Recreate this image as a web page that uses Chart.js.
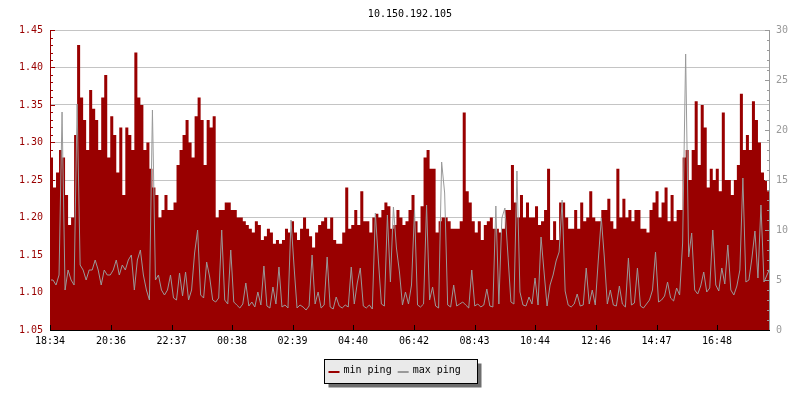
<!DOCTYPE html>
<html>
<head>
<meta charset="utf-8">
<script src="https://cdn.jsdelivr.net/npm/chart.js@4.4.0/dist/chart.umd.min.js"></script>
<style>
  body { margin: 0; background: #fff; }
  #wrap { width: 800px; height: 400px; }
</style>
</head>
<body>
<div id="wrap"><canvas id="chart1" width="800" height="400"></canvas></div>
<script>
// data, one sample every ~6 minutes from 18:34
var title = '10.150.192.105';
var startTime = '18:34';
var tickLabels = ['18:34', '20:36', '22:37', '00:38', '02:39', '04:40', '06:42', '08:43', '10:44', '12:46', '14:47', '16:48'];

var minPing = [
  1.28, 1.24, 1.26, 1.29, 1.28, 1.23, 1.19, 1.20, 1.31, 1.43,
  1.36, 1.33, 1.29, 1.37, 1.345, 1.33, 1.29, 1.36, 1.39, 1.28,
  1.335, 1.31, 1.26, 1.32, 1.23, 1.32, 1.31, 1.29, 1.42, 1.36,
  1.35, 1.29, 1.30, 1.265, 1.24, 1.23, 1.20, 1.21, 1.23, 1.21,
  1.21, 1.22, 1.27, 1.29, 1.31, 1.33, 1.30, 1.28, 1.335, 1.36,
  1.33, 1.27, 1.33, 1.32, 1.335, 1.20, 1.21, 1.21, 1.22, 1.22,
  1.21, 1.21, 1.20, 1.20, 1.195, 1.19, 1.185, 1.18, 1.195, 1.19,
  1.17, 1.175, 1.185, 1.18, 1.165, 1.17, 1.165, 1.17, 1.185, 1.18,
  1.195, 1.18, 1.17, 1.185, 1.20, 1.185, 1.175, 1.16, 1.18, 1.19,
  1.195, 1.20, 1.185, 1.20, 1.17, 1.165, 1.165, 1.18, 1.24, 1.185,
  1.19, 1.21, 1.19, 1.235, 1.195, 1.195, 1.18, 1.20, 1.205, 1.20,
  1.21, 1.22, 1.215, 1.185, 1.19, 1.21, 1.20, 1.19, 1.195, 1.21,
  1.23, 1.195, 1.18, 1.215, 1.28, 1.29, 1.265, 1.265, 1.18, 1.195,
  1.20, 1.20, 1.195, 1.185, 1.185, 1.185, 1.195, 1.34, 1.235, 1.22,
  1.195, 1.18, 1.195, 1.17, 1.19, 1.195, 1.20, 1.185, 1.185, 1.18,
  1.185, 1.21, 1.21, 1.27, 1.22, 1.20, 1.23, 1.20, 1.22, 1.20,
  1.20, 1.215, 1.19, 1.195, 1.21, 1.265, 1.17, 1.195, 1.17, 1.22,
  1.22, 1.20, 1.185, 1.185, 1.21, 1.185, 1.22, 1.195, 1.20, 1.235,
  1.20, 1.195, 1.195, 1.21, 1.21, 1.225, 1.195, 1.185, 1.265, 1.20,
  1.225, 1.20, 1.21, 1.195, 1.21, 1.21, 1.185, 1.185, 1.18, 1.21,
  1.22, 1.235, 1.20, 1.22, 1.24, 1.195, 1.23, 1.195, 1.21, 1.21,
  1.28, 1.29, 1.25, 1.29, 1.355, 1.27, 1.35, 1.32, 1.24, 1.265,
  1.25, 1.265, 1.235, 1.34, 1.25, 1.25, 1.23, 1.25, 1.27, 1.365,
  1.29, 1.31, 1.29, 1.355, 1.33, 1.30, 1.26, 1.25, 1.235, 1.40
];

var maxPing = [
  5.0, 5.0, 4.5, 5.5, 21.8, 4.0, 6.0, 5.0, 4.5, 22.6,
  6.5, 6.0, 5.0, 6.0, 6.0, 7.0, 6.0, 4.5, 6.0, 5.5,
  5.5, 6.0, 7.0, 5.5, 6.5, 6.0, 7.0, 7.5, 4.0, 7.0,
  8.0, 5.5, 4.0, 3.0, 22.0, 5.0, 5.5, 4.0, 3.5, 4.0,
  5.5, 3.2, 3.0, 5.7, 3.4, 5.8, 3.0, 4.0, 7.7, 10.0,
  3.5, 3.2, 6.8, 5.3, 3.0, 2.8, 3.2, 10.0, 3.0, 2.6,
  8.0, 2.8, 2.5, 2.2, 2.6, 4.7, 2.4, 2.8, 2.3, 3.8,
  2.5, 6.4, 2.4, 2.2, 4.3, 2.6, 6.3, 2.3, 2.5, 2.2,
  11.0, 6.4, 2.2, 2.5, 2.3, 2.0, 2.4, 7.5, 2.6, 3.8,
  2.2, 2.5, 7.3, 2.3, 2.1, 3.3, 2.4, 2.2, 2.5, 2.3,
  6.3, 2.6, 4.7, 6.2, 2.4, 2.2, 2.5, 2.1, 11.7, 7.0,
  2.6, 2.4, 11.5, 4.8, 12.3, 8.2, 5.8, 2.5, 3.8, 2.6,
  4.5, 12.0, 2.5, 2.3, 2.6, 12.5, 3.0, 4.3, 2.4, 2.2,
  16.8, 13.7, 2.5, 2.3, 4.5, 2.4, 2.6, 2.8, 2.5, 2.2,
  6.0, 2.4, 2.6, 2.3, 2.5, 4.1, 2.4, 2.3, 12.4, 2.6,
  11.2, 12.2, 7.5, 2.8, 2.6, 15.9, 3.8, 2.5, 2.4, 3.3,
  2.6, 5.2, 2.5, 9.3, 5.8, 2.4, 4.5, 5.5, 6.9, 7.8,
  13.0, 3.9, 2.5, 2.3, 2.6, 3.6, 2.4, 2.5, 6.2, 2.6,
  4.0, 2.5, 7.0, 11.2, 7.3, 2.6, 4.0, 2.5, 2.4, 4.4,
  2.6, 2.3, 7.2, 2.5, 2.7, 6.2, 2.4, 2.2, 2.6, 3.0,
  4.0, 7.8, 2.8, 3.0, 3.4, 4.8, 3.2, 2.9, 4.2, 3.5,
  8.7, 27.6, 7.3, 9.7, 4.0, 3.6, 4.4, 5.8, 3.8, 4.2,
  10.0, 4.5, 3.9, 6.2, 4.6, 8.5, 4.0, 3.5, 4.4, 6.0,
  15.2, 4.8, 5.0, 7.2, 9.9, 5.2, 12.5, 4.8, 5.5, 6.2
];

var RED = '#990000';
var GREY = '#999999';
var FONT = "'DejaVu Sans Mono', 'Liberation Mono', monospace";

function toMinutes(t) {
  var p = t.split(':');
  var s = startTime.split(':');
  return ((+p[0] * 60 + +p[1]) - (+s[0] * 60 + +s[1]) + 1440) % 1440;
}

var step = 1440 / (minPing.length - 1);
var minPts = minPing.map(function(v, i) { return { x: i * step, y: v }; });
var maxPts = maxPing.map(function(v, i) { return { x: i * step, y: v }; });

// axis lines, inward ticks, title and the boxed legend
var decor = {
  id: 'decor',
  afterDatasetsDraw: function(chart) {
    var ctx = chart.ctx, a = chart.chartArea;
    var y = chart.scales.y, y1 = chart.scales.y1, x = chart.scales.x;
    var i, py, px, n;
    ctx.save();
    ctx.lineWidth = 1;

    // left axis
    ctx.strokeStyle = RED;
    ctx.beginPath();
    n = Math.round((y.max - y.min) / 0.01);
    for (i = 0; i <= n; i++) {
      py = Math.round(y.getPixelForValue(y.min + i * 0.01)) + 0.5;
      ctx.moveTo(a.left, py);
      ctx.lineTo(a.left + (i % 5 === 0 ? 5 : 3), py);
    }
    ctx.moveTo(a.left + 0.5, a.top);
    ctx.lineTo(a.left + 0.5, a.bottom);
    ctx.stroke();

    // right axis
    ctx.strokeStyle = GREY;
    ctx.beginPath();
    for (i = y1.min; i <= y1.max; i++) {
      py = Math.round(y1.getPixelForValue(i)) + 0.5;
      ctx.moveTo(a.right, py);
      ctx.lineTo(a.right - (i % 5 === 0 ? 5 : 3), py);
    }
    ctx.moveTo(a.right - 0.5, a.top);
    ctx.lineTo(a.right - 0.5, a.bottom);
    ctx.stroke();

    // bottom axis
    ctx.strokeStyle = '#000';
    ctx.beginPath();
    ctx.moveTo(a.left, a.bottom + 0.5);
    ctx.lineTo(a.right, a.bottom + 0.5);
    x.ticks.forEach(function(t) {
      px = Math.round(x.getPixelForValue(t.value)) + 0.5;
      ctx.moveTo(px, a.bottom);
      ctx.lineTo(px, a.bottom - 5);
    });
    ctx.stroke();
    ctx.restore();
  },
  afterDraw: function(chart) {
    var ctx = chart.ctx, a = chart.chartArea;
    ctx.save();
    ctx.font = '10px ' + FONT;
    ctx.fillStyle = '#000';
    ctx.textAlign = 'center';
    ctx.textBaseline = 'middle';
    ctx.fillText(title, (a.left + a.right) / 2, 14);

    // legend
    var bw = 153, bh = 24;
    var bx = Math.round(chart.width / 2 - bw / 2) + 0.5, by = 359.5;
    ctx.fillStyle = '#6e6e6e';
    ctx.fillRect(bx + 4, by + 4, bw, bh);
    ctx.fillStyle = '#eaeaea';
    ctx.fillRect(bx, by, bw, bh);
    ctx.strokeStyle = '#000';
    ctx.strokeRect(bx, by, bw, bh);
    ctx.textAlign = 'left';
    var lx = bx + 4;
    chart.data.datasets.forEach(function(ds) {
      ctx.fillStyle = ds.legendColor;
      ctx.fillRect(lx, by + 11.5, 11, 2);
      ctx.fillStyle = '#000';
      ctx.fillText(ds.label, lx + 15, by + 11);
      lx += 15 + ctx.measureText(ds.label).width + 6;
    });
    ctx.restore();
  }
};

var ctx = document.getElementById('chart1').getContext('2d');
var myChart = new Chart(ctx, {
  type: 'line',
  data: {
    datasets: [{
      label: 'min ping',
      data: minPts,
      yAxisID: 'y',
      stepped: true,
      fill: 'start',
      backgroundColor: RED,
      borderWidth: 0,
      pointRadius: 0,
      legendColor: RED,
      order: 2
    },
    {
      label: 'max ping',
      data: maxPts,
      yAxisID: 'y1',
      fill: false,
      tension: 0,
      borderColor: GREY,
      borderWidth: 1,
      pointRadius: 0,
      legendColor: GREY,
      order: 1
    }]
  },
  options: {
    responsive: false,
    animation: false,
    events: [],
    layout: { padding: { top: 30, left: 0, right: 0, bottom: 0 } },
    plugins: {
      legend: { display: false },
      title: { display: false },
      tooltip: { enabled: false }
    },
    scales: {
      x: {
        type: 'linear',
        min: 0,
        max: 1440,
        grid: { display: false, drawTicks: false },
        border: { display: false },
        afterBuildTicks: function(scale) {
          scale.ticks = tickLabels.map(function(t) { return { value: toMinutes(t) }; });
        },
        afterFit: function(scale) { scale.height = 70; },
        ticks: {
          autoSkip: false,
          maxRotation: 0,
          padding: 5,
          color: '#000',
          font: { family: FONT, size: 10 },
          callback: function(v, i) { return tickLabels[i]; }
        }
      },
      y: {
        position: 'left',
        min: 1.05,
        max: 1.45,
        grid: { color: '#c4c4c4', drawTicks: false },
        border: { display: false },
        afterFit: function(scale) { scale.width = 50; },
        ticks: {
          stepSize: 0.05,
          padding: 7,
          color: RED,
          font: { family: FONT, size: 10 },
          callback: function(v) { return v.toFixed(2); }
        }
      },
      y1: {
        position: 'right',
        min: 0,
        max: 30,
        grid: { display: false, drawTicks: false },
        border: { display: false },
        afterFit: function(scale) { scale.width = 30; },
        ticks: {
          stepSize: 5,
          padding: 6,
          color: GREY,
          font: { family: FONT, size: 10 }
        }
      }
    }
  },
  plugins: [decor]
});
</script>
</body>
</html>
